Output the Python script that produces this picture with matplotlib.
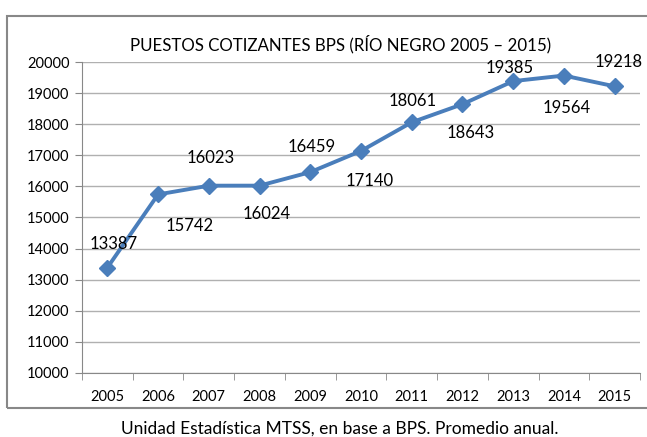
import matplotlib.pyplot as plt
from matplotlib.patches import Rectangle
import numpy as np

years = ['2005', '2006', '2007', '2008', '2009', '2010',
         '2011', '2012', '2013', '2014', '2015']
puestos = [13387, 15742, 16023, 16024, 16459, 17140,
           18061, 18643, 19385, 19564, 19218]
# desplazamiento de las etiquetas (pixeles)
label_dx = [6, 32, 2, 7, 1, 9, 1, 8, -4, 3, 4]
label_dy = [24, -32, 28, -28, 25, -30, 21, -29, 13, -32, 24]

plt.rcParams['font.family'] = ['Lato', 'DejaVu Sans']

fig = plt.figure(figsize=(6.47, 4.37), dpi=100)
ax = fig.add_axes([82/647, 1 - 373/437, 558/647, 311/437])

x = np.arange(len(years))
ax.plot(x, puestos, color='#4a7ebb', linewidth=2.8, marker='D',
        markersize=8.5, zorder=3)

for xi, v, dx, dy in zip(x, puestos, label_dx, label_dy):
    ax.annotate(str(v), (xi, v), xytext=(dx, dy), textcoords='offset pixels',
                ha='center', va='center', fontsize=12, color='black')

ax.set_xlim(-0.5, len(years) - 0.5)
ax.set_ylim(10000, 20000)
ax.set_yticks(np.arange(10000, 20001, 1000))
ax.set_xticks(x)
ax.set_xticklabels(years)
ax.set_xticks(np.arange(-0.5, len(years), 1), minor=True)
ax.tick_params(axis='x', which='major', length=0, pad=12, labelsize=10.5)
ax.tick_params(axis='x', which='minor', length=5, color='#888888')
ax.tick_params(axis='y', length=5, color='#888888', pad=4, labelsize=10.5)
ax.grid(axis='y', color='#b0b0b0', linewidth=1)
ax.set_axisbelow(True)
for s in ['top', 'right']:
    ax.spines[s].set_visible(False)
for s in ['left', 'bottom']:
    ax.spines[s].set_color('#888888')

fig.text(341/647, 1 - 44/437, 'PUESTOS COTIZANTES BPS (RÍO NEGRO 2005 – 2015)',
         ha='center', va='center', fontsize=12.2)
fig.text(340/647, 1 - 429/437, 'Unidad Estadística MTSS, en base a BPS. Promedio anual.',
         ha='center', va='center', fontsize=12.5)

fig.patches.append(Rectangle((7/647, 1 - 408/437), 1.0, 392/437,
                             transform=fig.transFigure, fill=False,
                             edgecolor='#888888', linewidth=1.5))

fig.savefig('out.png', dpi=100)
